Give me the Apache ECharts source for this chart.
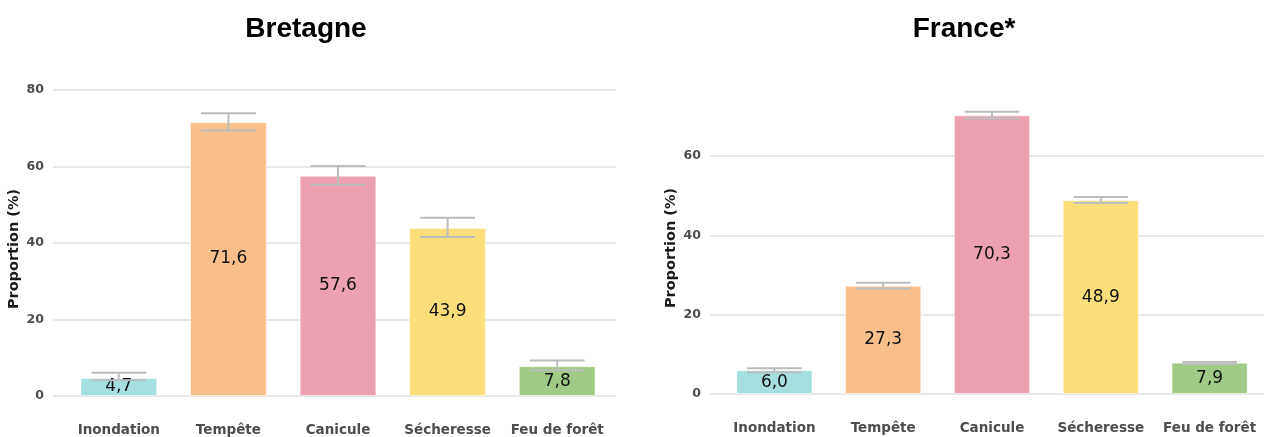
<!DOCTYPE html>
<html>
<head>
<meta charset="utf-8">
<script src="https://cdn.jsdelivr.net/npm/echarts@6/dist/echarts.min.js"></script>
<style>
  html, body { margin: 0; padding: 0; background: #fff; }
  #chart { width: 1264px; height: 437px; }
</style>
</head>
<body>
<div id="chart"></div>
<script>
// categories and values
const categories = ['Inondation', 'Tempête', 'Canicule', 'Sécheresse', 'Feu de forêt']
const barColors = ['#a5dfe0', '#f9bf8b', '#eca0b0', '#fcdf7b', '#a1cb85']

const bretagneValues = [4.7, 71.6, 57.6, 43.9, 7.8]
const bretagneLow = [4.1, 69.4, 55.2, 41.6, 6.7]
const bretagneHigh = [6.1, 73.9, 60.1, 46.6, 9.3]

const franceValues = [6.0, 27.3, 70.3, 48.9, 7.9]
const franceLow = [5.5, 26.6, 69.5, 48.2, 7.5]
const franceHigh = [6.5, 28.1, 71.2, 49.7, 8.1]

const bretagneMax = 80
const franceMax = 76.7
const tickStep = 20

const txtFont = 'DejaVu Sans'
const gridColor = '#e0e0e0'

function fmt(v) {
  return v.toFixed(1).replace('.', ',')
}

function errRender(params, api) {
  const x = api.value(0)
  const lo = api.coord([x, api.value(1)])
  const hi = api.coord([x, api.value(2)])
  const half = api.size([1, 0])[0] * 0.25
  const style = { stroke: '#bdbdbd', lineWidth: 2 }
  return {
    type: 'group',
    children: [
      { type: 'line', shape: { x1: lo[0], y1: lo[1], x2: hi[0], y2: hi[1] }, style: style },
      { type: 'line', shape: { x1: lo[0] - half, y1: lo[1], x2: lo[0] + half, y2: lo[1] }, style: style },
      { type: 'line', shape: { x1: hi[0] - half, y1: hi[1], x2: hi[0] + half, y2: hi[1] }, style: style }
    ]
  }
}

function valueAxis(gridIndex, max, visible) {
  return {
    type: 'value',
    gridIndex: gridIndex,
    min: 0,
    max: max,
    interval: tickStep,
    show: visible,
    name: visible ? 'Proportion (%)' : '',
    nameLocation: 'middle',
    nameGap: 31,
    nameTextStyle: { fontFamily: txtFont, fontWeight: 'bold', fontSize: 14.5, color: '#1a1a1a', padding: [0, 12, 0, 0] },
    axisLine: { show: false },
    axisTick: { show: false },
    axisLabel: {
      show: visible,
      margin: 9,
      fontFamily: txtFont,
      fontWeight: 'bold',
      fontSize: 12.5,
      color: '#4d4d4d',
      showMaxLabel: max % tickStep === 0
    },
    splitLine: {
      show: visible,
      showMaxLine: max % tickStep === 0,
      lineStyle: { color: gridColor, width: 1.5 }
    }
  }
}

function catAxis(gridIndex, visible) {
  return {
    type: 'category',
    gridIndex: gridIndex,
    data: categories,
    show: visible,
    axisLine: { show: false },
    axisTick: { show: false },
    axisLabel: {
      interval: 0,
      margin: 27,
      fontFamily: txtFont,
      fontWeight: 'bold',
      fontSize: 13.5,
      color: '#4d4d4d'
    }
  }
}

function barSeries(axisIndex, values) {
  return {
    type: 'bar',
    xAxisIndex: axisIndex,
    yAxisIndex: axisIndex,
    barWidth: '70%',
    data: values.map((v, i) => ({ value: v, itemStyle: { color: barColors[i] } })),
    itemStyle: { borderColor: 'rgba(255,255,255,0.5)', borderWidth: 1 },
    label: {
      show: true,
      position: 'inside',
      formatter: p => fmt(p.value),
      fontFamily: txtFont,
      fontSize: 17,
      color: '#111'
    }
  }
}

function errSeries(axisIndex, low, high) {
  return {
    type: 'custom',
    xAxisIndex: axisIndex,
    yAxisIndex: axisIndex,
    z: 5,
    renderItem: errRender,
    data: low.map((l, i) => [i, l, high[i]])
  }
}

const chart = echarts.init(document.getElementById('chart'))
chart.setOption({
  backgroundColor: '#fff',
  animation: false,
  title: [
    { text: 'Bretagne', left: 301, top: 10, textAlign: 'center',
      textStyle: { fontFamily: 'Liberation Sans', fontWeight: 'bold', fontSize: 28, color: '#000' } },
    { text: 'France*', left: 959, top: 10, textAlign: 'center',
      textStyle: { fontFamily: 'Liberation Sans', fontWeight: 'bold', fontSize: 28, color: '#000' } }
  ],
  grid: [
    { left: 53, right: 648, top: 90, bottom: 41 },
    { left: 64, right: 652, top: 90, bottom: 41 },
    { left: 710, right: 0, top: 90, bottom: 43 },
    { left: 720, right: -6, top: 90, bottom: 43 }
  ],
  xAxis: [catAxis(0, false), catAxis(1, true), catAxis(2, false), catAxis(3, true)],
  yAxis: [
    valueAxis(0, bretagneMax, true),
    valueAxis(1, bretagneMax, false),
    valueAxis(2, franceMax, true),
    valueAxis(3, franceMax, false)
  ],
  series: [
    barSeries(1, bretagneValues),
    errSeries(1, bretagneLow, bretagneHigh),
    barSeries(3, franceValues),
    errSeries(3, franceLow, franceHigh)
  ]
})
</script>
</body>
</html>
